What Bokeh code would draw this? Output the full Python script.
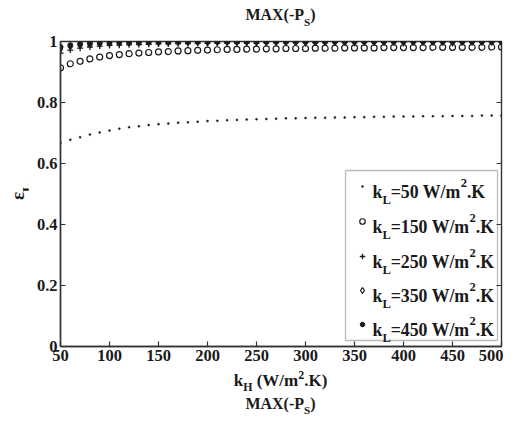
from bokeh.plotting import figure
from bokeh.models import Label, BoxAnnotation, FixedTicker, Range1d, NumeralTickFormatter, Div
from bokeh.layouts import column, row
from bokeh.embed import file_html
from bokeh.resources import INLINE

# ---------------- data ----------------
kH = [50, 60, 70, 80, 90, 100, 110, 120, 130, 140, 150, 160, 170, 180, 190, 200,
      210, 220, 230, 240, 250, 260, 270, 280, 290, 300, 310, 320, 330, 340, 350,
      360, 370, 380, 390, 400, 410, 420, 430, 440, 450, 460, 470, 480, 490, 500]

eps_k50 = [0.668, 0.678, 0.686, 0.695, 0.702, 0.708, 0.714, 0.719, 0.722, 0.726,
           0.729, 0.731, 0.734, 0.735, 0.737, 0.739, 0.740, 0.742, 0.743, 0.744,
           0.745, 0.746, 0.747, 0.748, 0.748, 0.749, 0.750, 0.750, 0.751, 0.751,
           0.752, 0.752, 0.753, 0.753, 0.754, 0.754, 0.754, 0.755, 0.755, 0.755,
           0.756, 0.756, 0.756, 0.757, 0.757, 0.757]

eps_k150 = [0.914, 0.927, 0.935, 0.943, 0.949, 0.954, 0.957, 0.960, 0.962, 0.964,
            0.966, 0.967, 0.969, 0.970, 0.971, 0.972, 0.973, 0.974, 0.974, 0.975,
            0.975, 0.976, 0.976, 0.977, 0.977, 0.977, 0.978, 0.978, 0.978, 0.979,
            0.979, 0.979, 0.979, 0.980, 0.980, 0.980, 0.980, 0.980, 0.981, 0.981,
            0.981, 0.981, 0.981, 0.981, 0.982, 0.982]

eps_k250 = [0.962, 0.972, 0.978, 0.982, 0.985, 0.987, 0.988, 0.989, 0.990, 0.991,
            0.992, 0.992, 0.993, 0.993, 0.994, 0.994, 0.994, 0.995, 0.995, 0.995,
            0.995, 0.996, 0.996, 0.996, 0.996, 0.996, 0.996, 0.996, 0.997, 0.997,
            0.997, 0.997, 0.997, 0.997, 0.997, 0.997, 0.997, 0.997, 0.997, 0.997,
            0.997, 0.997, 0.997, 0.997, 0.997, 0.997]

eps_k350 = [0.975, 0.983, 0.987, 0.990, 0.992, 0.993, 0.994, 0.995, 0.995, 0.996,
            0.996, 0.996, 0.997, 0.997, 0.997, 0.997, 0.998, 0.998, 0.998, 0.998,
            0.998, 0.998, 0.998, 0.998, 0.998, 0.998, 0.998, 0.999, 0.999, 0.999,
            0.999, 0.999, 0.999, 0.999, 0.999, 0.999, 0.999, 0.999, 0.999, 0.999,
            0.999, 0.999, 0.999, 0.999, 0.999, 0.999]

eps_k450 = [0.982, 0.988, 0.992, 0.994, 0.995, 0.996, 0.997, 0.997, 0.998, 0.998,
            0.998, 0.998, 0.999, 0.999, 0.999, 0.999, 0.999, 0.999, 0.999, 0.999,
            0.999, 0.999, 0.999, 0.999, 0.999, 0.999, 0.999, 0.999, 0.999, 0.999,
            1.000, 1.000, 1.000, 1.000, 1.000, 1.000, 1.000, 1.000, 1.000, 1.000,
            1.000, 1.000, 1.000, 1.000, 1.000, 1.000]

kL_values = ["50", "150", "250", "350", "450"]
x_ticks = [50, 100, 150, 200, 250, 300, 350, 400, 450, 500]
y_ticks = [0, 0.2, 0.4, 0.6, 0.8, 1]

# ---------------- layout (page pixels) ----------------
FONT = "Liberation Serif"
INK = "#1a1a1a"
TOTAL_W = 503
TITLE_H = 30          # title strip above the figure
YLAB_W = 28           # y-label strip left of the figure
BL, BR, BT, BB = 32, 2, 11, 26
FW, FH = 441, 305
FIG_W = BL + FW + BR
FIG_H = BT + FH + BB
XLAB_H = 19
BOT_H = 21
X0, X1 = 50, 500
Y0, Y1 = 0, 1
FRAME_L = YLAB_W + BL      # 60
FRAME_T = TITLE_H + BT     # 41


def px2x(px):  # page px -> data x
    return X0 + (px - FRAME_L) / FW * (X1 - X0)


def py2y(py):  # page px -> data y
    return Y1 - (py - FRAME_T) / FH * (Y1 - Y0)


p = figure(width=FIG_W, height=FIG_H, output_backend="svg", toolbar_location=None,
           x_range=Range1d(X0, X1), y_range=Range1d(Y0, Y1),
           min_border_left=BL, min_border_right=BR, min_border_top=BT,
           min_border_bottom=BB, title=None)
p.grid.visible = False
p.background_fill_color = "white"
p.border_fill_color = "white"
p.outline_line_color = "#333333"
p.outline_line_width = 1.4

for ax, ticks in ((p.xaxis[0], x_ticks), (p.yaxis[0], y_ticks)):
    ax.ticker = FixedTicker(ticks=ticks)
    ax.major_tick_in = 5
    ax.major_tick_out = 0
    ax.minor_tick_in = 0
    ax.minor_tick_out = 0
    ax.axis_line_color = "#333333"
    ax.axis_line_width = 1.4
    ax.major_tick_line_color = "#333333"
    ax.major_tick_line_width = 1.2
    ax.major_label_text_font = FONT
    ax.major_label_text_font_style = "bold"
    ax.major_label_text_font_size = "16.5px"
    ax.major_label_text_color = INK
    ax.major_label_standoff = 3
p.yaxis[0].formatter = NumeralTickFormatter(format="0.[0]")
p.xaxis[0].formatter = NumeralTickFormatter(format="0")

# inward ticks on the right and top frame edges (MATLAB box style)
tdx = 5 * (X1 - X0) / FW
tdy = 5 * (Y1 - Y0) / FH
p.segment(x0=[X1] * len(y_ticks), y0=y_ticks, x1=[X1 - tdx] * len(y_ticks), y1=y_ticks,
          line_color="#333333", line_width=1.2)
p.segment(x0=x_ticks, y0=[Y1] * len(x_ticks), x1=x_ticks, y1=[Y1 - tdy] * len(x_ticks),
          line_color="#333333", line_width=1.2)

# ---------------- rich text helper (inside the frame) ----------------
MET = {'k': 556, 'L': 667, 'H': 778, '=': 570, ' ': 250, 'W': 1000, '/': 278,
       'm': 833, '.': 250, 'K': 778, '(': 333, ')': 333, '-': 333, 'M': 944,
       'A': 722, 'X': 722, 'P': 611, 'S': 556}


def twidth(s, size):
    return sum(MET.get(c, 500) for c in s) * size / 1000.0


def rich(x, y, parts, size):
    adv = 0.0
    for text, kind in parts:
        s = size if kind == "n" else size * 0.7
        dy = 0.0 if kind == "n" else (-0.47 * size if kind == "sub" else 0.45 * size)
        p.add_layout(Label(x=x, y=y, text=text, x_offset=adv, y_offset=dy,
                           text_font=FONT, text_font_style="bold",
                           text_font_size=f"{s:.1f}px", text_color=INK,
                           text_align="left", text_baseline="alphabetic"))
        adv += twidth(text, s)


def html_rich(parts, sub_shift=0.55):
    out = []
    for text, kind in parts:
        if kind == "n":
            out.append(text)
        elif kind == "sub":
            out.append(f'<span style="font-size:0.7em;position:relative;top:{sub_shift}em">{text}</span>')
        else:
            out.append(f'<span style="font-size:0.7em;position:relative;top:-0.62em">{text}</span>')
    return "".join(out)


# ---------------- data marks ----------------
p.scatter(kH, eps_k50, marker="circle", size=2, fill_color=INK, line_color=INK, line_width=0.5)
p.scatter(kH, eps_k150, marker="circle", size=6, fill_color=None, line_color=INK, line_width=1.2)
p.scatter(kH, eps_k250, marker="cross", size=6, line_color=INK, line_width=1.3)
p.scatter(kH, eps_k350, marker="diamond", size=6, fill_color=None, line_color=INK, line_width=1.2)
p.scatter(kH, eps_k450, marker="circle", size=5, fill_color=INK, line_color=INK, line_width=1)

# ---------------- legend ----------------
p.add_layout(BoxAnnotation(left=px2x(345), right=px2x(497), top=py2y(170), bottom=py2y(340),
                           fill_color="white", fill_alpha=1.0, line_color="#222222",
                           line_width=1.3, level="underlay"))
baselines = [191, 226, 261, 295, 329]
styles = [dict(marker="circle", size=2, fill_color=INK, line_color=INK, line_width=0.5),
          dict(marker="circle", size=5.5, fill_color=None, line_color=INK, line_width=1.2),
          dict(marker="cross", size=5.5, line_color=INK, line_width=1.3),
          dict(marker="diamond", size=6, fill_color=None, line_color=INK, line_width=1.2),
          dict(marker="circle", size=4.5, fill_color=INK, line_color=INK, line_width=1)]
for v, b, st in zip(kL_values, baselines, styles):
    p.scatter([px2x(362)], [py2y(b - 5)], **st)
    rich(px2x(372), py2y(b), [("k", "n"), ("L", "sub"), (f"={v} W/m", "n"),
                              ("2", "sup"), (".K", "n")], 17.8)

# ---------------- titles / axis labels as HTML strips ----------------
BASE_STYLE = (f"font-family:'{FONT}';font-weight:bold;color:{INK};white-space:nowrap;"
              "text-align:center;")


def strip(parts, width, height, size, pad_top, sub_shift=0.55):
    html = (f'<div style="{BASE_STYLE}font-size:{size}px;line-height:{size}px;'
            f'margin-left:{FRAME_L}px;width:{FW}px;padding-top:{pad_top}px">'
            f'{html_rich(parts, sub_shift)}</div>')
    return Div(text=html, width=width, height=height, margin=0)


title_parts = [("MAX(-P", "n"), ("S", "sub"), (")", "n")]
xlabel_parts = [("k", "n"), ("H", "sub"), (" (W/m", "n"), ("2", "sup"), (".K)", "n")]
ylabel_parts = [("\u03b5", "n"), ("L", "sub")]

title_div = strip(title_parts, TOTAL_W, TITLE_H, 16, 7)
xlab_div = strip(xlabel_parts, TOTAL_W, XLAB_H, 17, 0, sub_shift=0.42)
bot_div = strip(title_parts, TOTAL_W, BOT_H, 16, 5, sub_shift=0.45)

ylab_html = (f'<div style="position:relative;width:{YLAB_W}px;height:{FIG_H}px">'
             f'<div style="position:absolute;left:8px;top:{FRAME_T - TITLE_H + FH / 2 + 7:.0f}px;'
             f'transform:rotate(-90deg);transform-origin:0 0;{BASE_STYLE}'
             f'font-size:19px;line-height:19px">{html_rich(ylabel_parts)}</div></div>')
ylab_div = Div(text=ylab_html, width=YLAB_W, height=FIG_H, margin=0)

layout = column(title_div, row(ylab_div, p, spacing=0), xlab_div, bot_div, spacing=0)

open("out.html", "w").write(file_html(layout, INLINE))
